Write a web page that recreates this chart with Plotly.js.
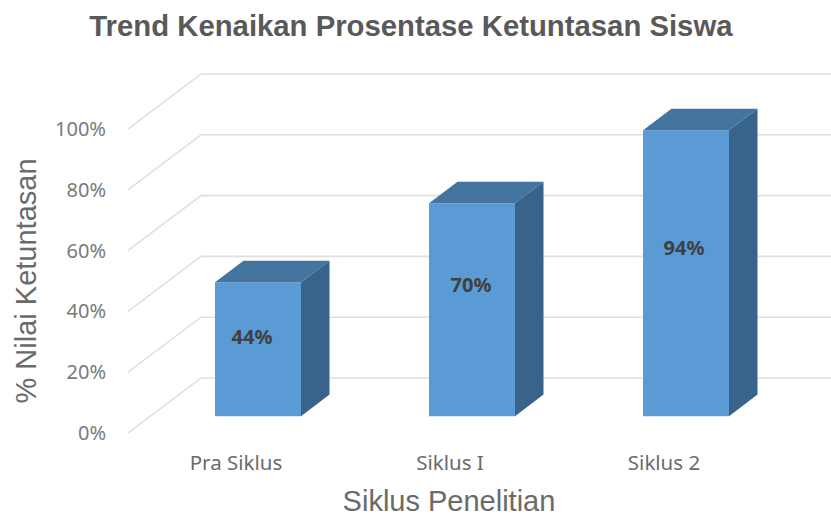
<!DOCTYPE html>
<html>
<head>
<meta charset="utf-8">
<script src="https://cdn.plot.ly/plotly-3.0.1.min.js"></script>
<style>html,body{margin:0;padding:0;background:#fff}</style>
</head>
<body>
<div id="chart" style="width:831px;height:517px"></div>
<script>
const categories = ["Pra Siklus", "Siklus I", "Siklus 2"];
const values = [44, 70, 94];
const gridValues = [0, 20, 40, 60, 80, 100];
const labels = ["44%", "70%", "94%"];

const pxPerCat = 214, pxPerPct = 3.04;
const wallDx = 73 / pxPerCat, wallDy = 18.1;
const barDx = 22 / pxPerCat, barDy = 5.55;
const depthDx = 28.5 / pxPerCat, depthDy = 7.1;
const barW = 86 / pxPerCat;
const xRange = [(128 - 236) / pxPerCat, (770 - 236) / pxPerCat];
const xRangeFull = [(128 - 236) / pxPerCat, (831 - 236) / pxPerCat];
const yRangeFull = [0, 373 / pxPerPct];
const labelLift = [0, 1.6, -0.2];
const labelShift = [-6, -1, -2];
const idx = categories.map((_, i) => i);

const traces = [];
// carrier for the visible axes
traces.push({ type: "scatter", mode: "none", x: idx, y: values, xaxis: "x", yaxis: "y",
  hoverinfo: "skip", showlegend: false });
gridValues.forEach(v => {
  traces.push({
    type: "scatter", mode: "lines", xaxis: "x2", yaxis: "y2",
    hoverinfo: "skip", showlegend: false,
    x: [xRangeFull[0], xRangeFull[0] + wallDx, xRangeFull[1]],
    y: [v, v + wallDy, v + wallDy],
    line: { color: "#e0e0e0", width: 1.6 }
  });
});
traces.push({
  type: "bar", x: idx.map(i => i + barDx), y: values, base: values.map(() => barDy),
  width: barW, xaxis: "x3", yaxis: "y3", showlegend: false,
  marker: { color: "#5b9bd5", line: { width: 0 } }
});
idx.forEach(i => {
  const l = i + barDx - barW / 2, r = i + barDx + barW / 2;
  const b = barDy, t = barDy + values[i];
  traces.push({
    type: "scatter", mode: "lines", fill: "toself", fillcolor: "#44759f",
    xaxis: "x3", yaxis: "y3", hoverinfo: "skip", showlegend: false,
    line: { width: 0, color: "#44759f" },
    x: [l, r, r + depthDx, l + depthDx, l],
    y: [t, t, t + depthDy, t + depthDy, t]
  });
  traces.push({
    type: "scatter", mode: "lines", fill: "toself", fillcolor: "#38648b",
    xaxis: "x3", yaxis: "y3", hoverinfo: "skip", showlegend: false,
    line: { width: 0, color: "#38648b" },
    x: [r, r + depthDx, r + depthDx, r, r],
    y: [b, b + depthDy, t + depthDy, t, b]
  });
});
traces.push({
  type: "scatter", mode: "text", xaxis: "x3", yaxis: "y3",
  hoverinfo: "skip", showlegend: false,
  x: idx.map(i => i + barDx + labelShift[i] / pxPerCat),
  y: values.map((v, i) => 5 + 0.59 * v + labelLift[i]),
  text: labels, textposition: "middle center",
  textfont: { family: "Noto Sans, sans-serif", size: 20, color: "#404040", weight: 700 }
});

const titleFont = { family: "Liberation Sans, Arial, sans-serif", size: 29, color: "#6a6a6a" };
const layout = {
  width: 831, height: 517,
  margin: { l: 128, r: 0, t: 60, b: 84, pad: 0 },
  paper_bgcolor: "#fff", plot_bgcolor: "rgba(0,0,0,0)",
  showlegend: false,
  title: {
    text: "<b>Trend Kenaikan Prosentase Ketuntasan Siswa</b>",
    x: 0.4945, xanchor: "center", y: 0.951, yanchor: "middle", yref: "container",
    font: { family: "Liberation Sans, Arial, sans-serif", size: 29.3, color: "#595959" }
  },
  xaxis: {
    domain: [0, 642 / 703], anchor: "y",
    range: xRange, tickmode: "array", tickvals: idx, ticktext: categories,
    showgrid: false, zeroline: false, showline: false, ticks: "outside", ticklen: 11,
    tickcolor: "rgba(0,0,0,0)",
    tickfont: { family: "Noto Sans, sans-serif", size: 20.5, color: "#6a6a6a" },
    title: { text: "Siklus Penelitian", standoff: 20, font: titleFont }
  },
  yaxis: {
    domain: [0, 304 / 373], anchor: "x",
    range: [0, 100], tickmode: "array", tickvals: gridValues,
    ticktext: gridValues.map(v => v + "%"),
    showgrid: false, zeroline: false, showline: false, ticks: "outside", ticklen: 17,
    tickcolor: "rgba(0,0,0,0)",
    tickfont: { family: "Noto Sans, sans-serif", size: 20, color: "#7a7a7a" },
    title: { text: "% Nilai Ketuntasan", standoff: 9, font: titleFont }
  },
  xaxis2: { domain: [0, 1], anchor: "y2", range: xRangeFull, visible: false },
  yaxis2: { domain: [0, 1], anchor: "x2", range: yRangeFull, visible: false },
  xaxis3: { overlaying: "x2", anchor: "y3", range: xRangeFull, visible: false },
  yaxis3: { overlaying: "y2", anchor: "x3", range: yRangeFull, visible: false }
};
Plotly.newPlot("chart", traces, layout, { displayModeBar: false, staticPlot: true });
</script>
</body>
</html>
